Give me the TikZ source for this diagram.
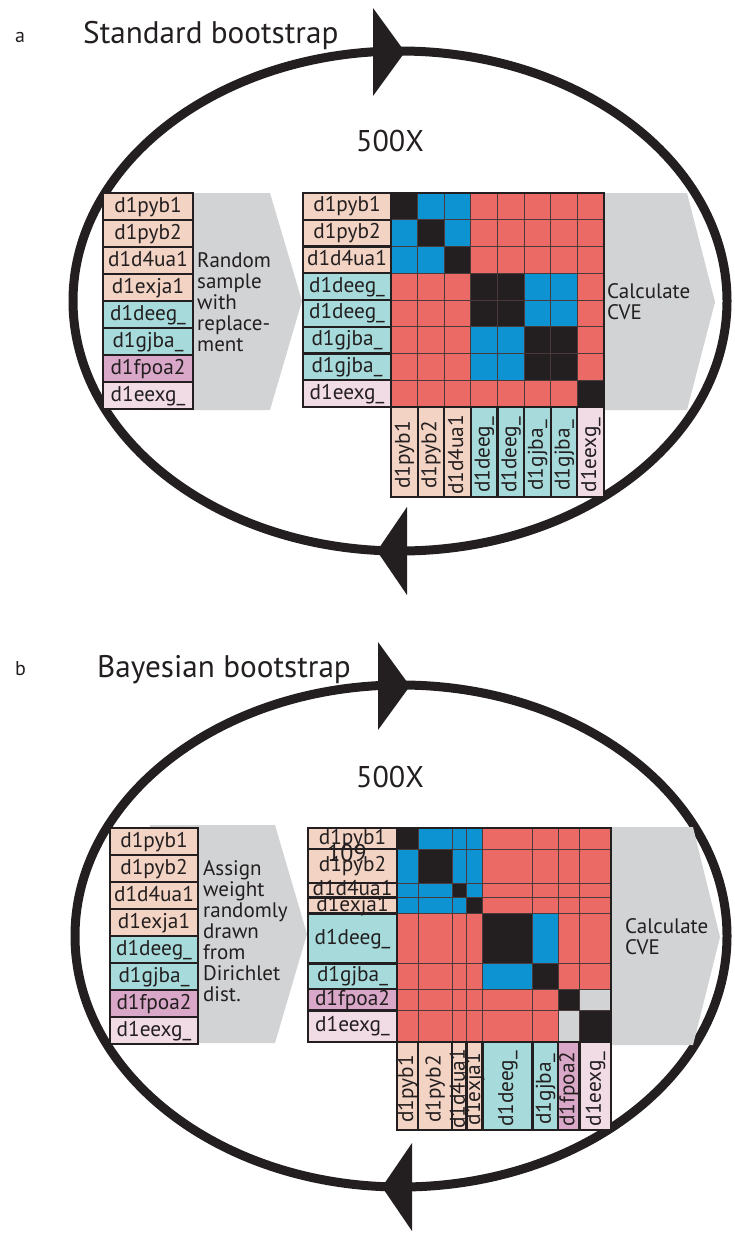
\documentclass[tikz,border=0pt]{standalone}
\usepackage{fontspec}
\setmainfont{PT Sans}
\definecolor{ink}{HTML}{231F20}
\definecolor{peach}{HTML}{F3D3C3}
\definecolor{labteal}{HTML}{A7DBDB}
\definecolor{mauve}{HTML}{D9A7C7}
\definecolor{blush}{HTML}{F1DBE5}
\definecolor{mR}{HTML}{EC6A66}
\definecolor{mB}{HTML}{0D93D2}
\definecolor{mK}{HTML}{231F20}
\definecolor{mG}{HTML}{D1D3D4}
\definecolor{arrowgray}{HTML}{D1D3D4}
\definecolor{gridline}{HTML}{4B3A3A}

\begin{document}
\begin{tikzpicture}[x=1pt,y=-1pt,
  labtext/.style={inner sep=0pt, text=ink, text height=15.3pt, text depth=4.3pt,
    font=\fontsize{21.3}{23}\selectfont},
  labfill/.style={inner sep=0pt, draw=none},
  boxline/.style={draw=ink, line width=1.8pt},
  gridrule/.style={draw=gridline, line width=0.9pt},
  loopline/.style={draw=ink, line width=9pt},
  loophead/.style={fill=ink},
  flowarrow/.style={fill=arrowgray},
  note/.style={inner sep=0pt, text=ink, align=left, anchor=north west,
    font=\fontsize{21}{21}\selectfont},
  title/.style={inner sep=0pt, text=ink, anchor=base west, font=\fontsize{31.2}{33}\selectfont},
  tag/.style={inner sep=0pt, text=ink, anchor=base west, font=\fontsize{20}{22}\selectfont},
  count/.style={inner sep=0pt, text=ink, font=\fontsize{30}{32}\selectfont}
]
\useasboundingbox (0,0) rectangle (735,1237);

% ---------------- panel a: standard bootstrap ----------------
\draw[loopline] (400,301) ellipse [x radius=327, y radius=250];
\fill[loophead] (373,8) -- (405,52) -- (373,96) -- cycle;
\fill[loophead] (407,507) -- (377,551) -- (407,595) -- cycle;

\node[tag] (a-tag) at (15,42) {a};
\node[title] (a-title) at (83,43) {Standard bootstrap};
\node[count] (a-count) at (390,141) {500X};

\fill[flowarrow] (150,193) -- (270,193) -- (302,301) -- (270,410) -- (150,410) -- cycle;
\fill[flowarrow] (600,193) -- (687,193) -- (715,302) -- (687,410) -- (600,410) -- cycle;

\node[note] (a-sample) at (197,252) {Random\\sample\\with\\replace-\\ment};
\node[note] (a-cve) at (607,283) {Calculate\\CVE};

% input list
\foreach \t/\c [count=\i from 0] in {d1pyb1/peach,d1pyb2/peach,d1d4ua1/peach,d1exja1/peach,
    d1deeg\_/labteal,d1gjba\_/labteal,d1fpoa2/mauve,d1eexg\_/blush} {
  \node[labfill, fill=\c, minimum width=90pt, minimum height=27pt] (aL\i) at (148,206.5+27*\i) {};
  \node[labtext] (aLt\i) at (aL\i) {\t};
  \draw[boxline] (aL\i.south west) rectangle (aL\i.north east);
}

% resampled matrix
\foreach \row [count=\i from 0] in {{K,B,B,R,R,R,R,R},{B,K,B,R,R,R,R,R},{B,B,K,R,R,R,R,R},
    {R,R,R,K,K,B,B,R},{R,R,R,K,K,B,B,R},{R,R,R,B,B,K,K,R},{R,R,R,B,B,K,K,R},{R,R,R,R,R,R,R,K}} {
  \foreach \c [count=\j from 0] in \row {
    \fill[m\c] (391+26.625*\j,193+26.75*\i) rectangle (391+26.625*\j+26.625,193+26.75*\i+26.75);
  }
}
\foreach \k in {1,...,7} {
  \draw[gridrule] (391+26.625*\k,193) -- (391+26.625*\k,407);
  \draw[gridrule] (391,193+26.75*\k) -- (604,193+26.75*\k);
}
\draw[boxline] (391,193) rectangle (604,407);

\foreach \t/\c [count=\i from 0] in {d1pyb1/peach,d1pyb2/peach,d1d4ua1/peach,d1deeg\_/labteal,
    d1deeg\_/labteal,d1gjba\_/labteal,d1gjba\_/labteal,d1eexg\_/blush} {
  \node[labfill, fill=\c, minimum width=88pt, minimum height=26.75pt] (aR\i) at (347,206.375+26.75*\i) {};
  \node[labfill, fill=\c, minimum width=26.625pt, minimum height=90pt] (aC\i) at (404.3125+26.625*\i,452) {};
}
\foreach \t [count=\i from 0] in {d1pyb1,d1pyb2,d1d4ua1,d1deeg\_,d1deeg\_,d1gjba\_,d1gjba\_,d1eexg\_} {
  \node[labtext] (aRt\i) at (aR\i) {\t};
  \node[labtext, rotate=90] (aCt\i) at ([yshift=-3pt]aC\i.center) {\t};
}
\foreach \i in {0,...,7} {
  \draw[boxline] (aR\i.south west) rectangle (aR\i.north east);
  \draw[boxline] (aC\i.south west) rectangle (aC\i.north east);
}

% ---------------- panel b: Bayesian bootstrap ----------------
\draw[loopline] (401,936) ellipse [x radius=326, y radius=251];
\fill[loophead] (378,642) -- (410,686) -- (378,730) -- cycle;
\fill[loophead] (412,1143) -- (382,1187) -- (412,1231) -- cycle;

\node[tag] (b-tag) at (15,675) {b};
\node[title] (b-title) at (97,677) {Bayesian bootstrap};
\node[count] (b-count) at (390,777) {500X};

\fill[flowarrow] (150,825) -- (275,825) -- (307,934) -- (275,1043) -- (150,1043) -- cycle;
\fill[flowarrow] (607,827) -- (693,827) -- (720,937) -- (693,1045) -- (607,1045) -- cycle;

\node[note] (b-weight) at (203,860) {Assign\\weight\\randomly\\drawn\\from\\Dirichlet\\dist.};
\node[note] (b-cve) at (625,918) {Calculate\\CVE};

% input list
\foreach \t/\c [count=\i from 0] in {d1pyb1/peach,d1pyb2/peach,d1d4ua1/peach,d1exja1/peach,
    d1deeg\_/labteal,d1gjba\_/labteal,d1fpoa2/mauve,d1eexg\_/blush} {
  \node[labfill, fill=\c, minimum width=88pt, minimum height=27pt] (bL\i) at (154,841.5+27*\i) {};
  \node[labtext] (bLt\i) at (bL\i) {\t};
  \draw[boxline] (bL\i.south west) rectangle (bL\i.north east);
}

% weighted matrix: cell sizes follow the weights
\def\cum{{0,21,55,69.5,85.5,135.5,161,182.5,214}}
\foreach \row [count=\i from 0] in {{K,B,B,B,R,R,R,R},{B,K,B,B,R,R,R,R},{B,B,K,B,R,R,R,R},
    {B,B,B,K,R,R,R,R},{R,R,R,R,K,B,R,R},{R,R,R,R,B,K,R,R},{R,R,R,R,R,R,K,G},{R,R,R,R,R,R,G,K}} {
  \foreach \c [count=\j from 0] in \row {
    \pgfmathsetmacro\xa{397+\cum[\j]}
    \pgfmathsetmacro\xb{397+\cum[\j+1]}
    \pgfmathsetmacro\ya{828+\cum[\i]}
    \pgfmathsetmacro\yb{828+\cum[\i+1]}
    \fill[m\c] (\xa,\ya) rectangle (\xb,\yb);
  }
}
\foreach \k in {1,...,7} {
  \pgfmathsetmacro\cellpos{\cum[\k]}
  \draw[gridrule] (397+\cellpos,828) -- (397+\cellpos,1042);
  \draw[gridrule] (397,828+\cellpos) -- (611,828+\cellpos);
}
\draw[boxline] (397,828) rectangle (611,1042);

\foreach \t/\c [count=\i from 0] in {d1pyb1/peach,d1pyb2/peach,d1d4ua1/peach,d1exja1/peach,
    d1deeg\_/labteal,d1gjba\_/labteal,d1fpoa2/mauve,d1eexg\_/blush} {
  \pgfmathsetmacro\cellLo{\cum[\i]}
  \pgfmathsetmacro\cellHi{\cum[\i+1]}
  \pgfmathsetmacro\cellMid{(\cellLo+\cellHi)/2}
  \pgfmathsetmacro\cellSize{\cellHi-\cellLo}
  \node[labfill, fill=\c, minimum width=89pt, minimum height=\cellSize pt] (bR\i) at (352.5,828+\cellMid) {};
  \node[labfill, fill=\c, minimum width=\cellSize pt, minimum height=88pt] (bC\i) at (397+\cellMid,1086) {};
}
\foreach \t [count=\i from 0] in {d1pyb1,d1pyb2,d1d4ua1,d1exja1,d1deeg\_,d1gjba\_,d1fpoa2,d1eexg\_} {
  \node[labtext] (bRt\i) at (bR\i) {\t};
  \node[labtext, rotate=90] (bCt\i) at ([yshift=-3pt]bC\i.center) {\t};
}
\foreach \i in {0,...,7} {
  \draw[boxline] (bR\i.south west) rectangle (bR\i.north east);
  \draw[boxline] (bC\i.south west) rectangle (bC\i.north east);
}
\node[inner sep=0pt, text=ink, font=\fontsize{24}{26}\selectfont] (b-stray) at (347,853) {109};

\end{tikzpicture}
\end{document}
